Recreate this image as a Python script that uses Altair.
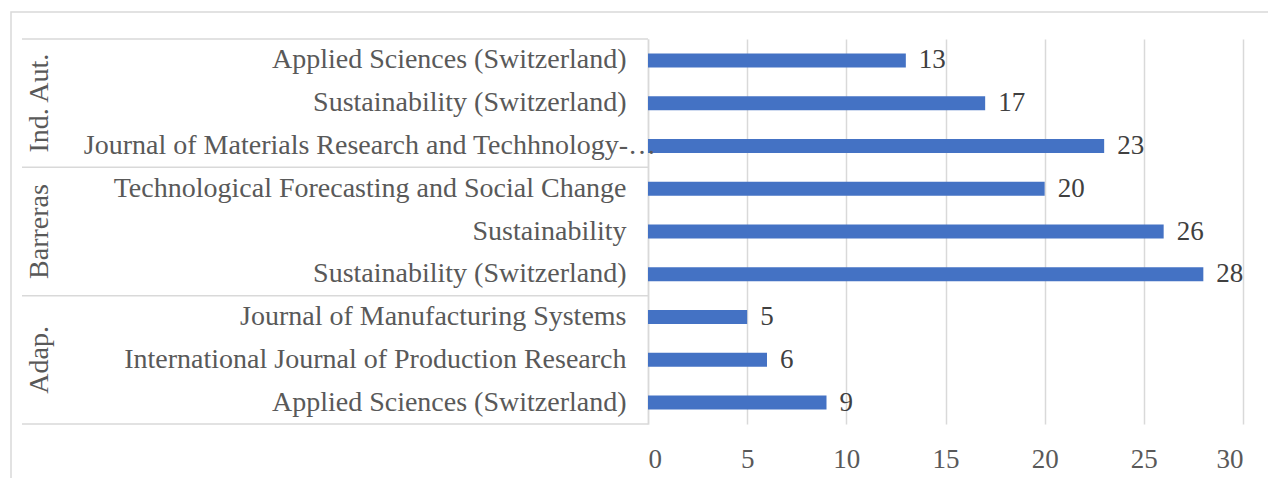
import altair as alt
import pandas as pd

groups = ["Ind. Aut.", "Ind. Aut.", "Ind. Aut.",
          "Barreras", "Barreras", "Barreras",
          "Adap.", "Adap.", "Adap."]
journals = [
    "Applied Sciences (Switzerland)",
    "Sustainability (Switzerland)",
    "Journal of Materials Research and Techhnology-\u2026",
    "Technological Forecasting and Social Change",
    "Sustainability",
    "Sustainability (Switzerland)",
    "Journal of Manufacturing Systems",
    "International Journal of Production Research",
    "Applied Sciences (Switzerland)",
]
counts = [13, 17, 23, 20, 26, 28, 5, 6, 9]
x_ticks = [0, 5, 10, 15, 20, 25, 30]

keys = [f"{i}|{j}" for i, j in enumerate(journals)]
df = pd.DataFrame({"key": keys, "group": groups, "journal": journals, "count": counts})
df["truncated"] = df["journal"].str.endswith("\u2026")

FONT = "Liberation Serif"
GRAY = "#d9d9d9"
LABEL = "#595959"

ysc = alt.Scale(domain=keys, paddingInner=0, paddingOuter=0)
xsc = alt.Scale(domain=[0, 30], nice=False)

base = alt.Chart(df)

border = alt.Chart(pd.DataFrame({"a": [0]})).mark_rect(
    fillOpacity=0, stroke=GRAY, strokeWidth=1.5
).encode(x=alt.value(-637), x2=alt.value(800), y=alt.value(-27), y2=alt.value(600))

bars = base.mark_bar(size=14, color="#4472C4").encode(
    x=alt.X("count:Q", scale=xsc,
            axis=alt.Axis(values=x_ticks, grid=True, gridColor=GRAY, gridWidth=1.5,
                          domain=False, ticks=False, labelFont=FONT, labelFontSize=27,
                          labelColor=LABEL, labelPadding=22, title=None)),
    y=alt.Y("key:N", scale=ysc, sort=keys,
            axis=alt.Axis(labelExpr="indexof(datum.label, '\u2026') >= 0 ? '' : split(datum.label, '|')[1]",
                          domain=True,
                          domainColor=GRAY, domainWidth=1.5, ticks=False,
                          labelFont=FONT, labelFontSize=28, labelColor=LABEL,
                          labelPadding=22, labelLimit=800, title=None, grid=False)),
)

long_label = alt.Chart(df[df["truncated"]]).mark_text(
    align="right", baseline="middle", font=FONT, fontSize=28, color=LABEL
).encode(
    y=alt.Y("key:N", scale=ysc, sort=keys),
    x=alt.value(8),
    text="journal:N",
)

values = base.mark_text(align="left", baseline="middle", dx=13, font=FONT,
                        fontSize=27, color="#404040").encode(
    x=alt.X("count:Q", scale=xsc),
    y=alt.Y("key:N", scale=ysc, sort=keys),
    text="count:Q",
)

firsts = df.groupby("group", sort=False).head(1)
lasts = df.tail(1)
mids = df.groupby("group", sort=False).nth(1)

sep_top = alt.Chart(firsts).mark_rule(color=GRAY, strokeWidth=1.5).encode(
    y=alt.Y("key:N", scale=ysc, sort=keys, bandPosition=0),
    x=alt.value(-626), x2=alt.value(0),
)
sep_bot = alt.Chart(lasts).mark_rule(color=GRAY, strokeWidth=1.5).encode(
    y=alt.Y("key:N", scale=ysc, sort=keys, bandPosition=1),
    x=alt.value(-626), x2=alt.value(0),
)
glabels = alt.Chart(mids).mark_text(angle=270, align="center", baseline="middle",
                                    font=FONT, fontSize=28, color=LABEL).encode(
    y=alt.Y("key:N", scale=ysc, sort=keys),
    x=alt.value(-608),
    text="group:N",
)

chart = alt.layer(border, bars, long_label, values, sep_top, sep_bot, glabels).properties(
    width=595, height=385,
    background="white",
    autosize=alt.AutoSizeParams(type="none"),
    padding={"left": 640, "top": 31, "right": 25, "bottom": 54},
).configure_view(strokeWidth=0)

chart.save("out.html", embed_options={"renderer": "svg", "actions": False})
